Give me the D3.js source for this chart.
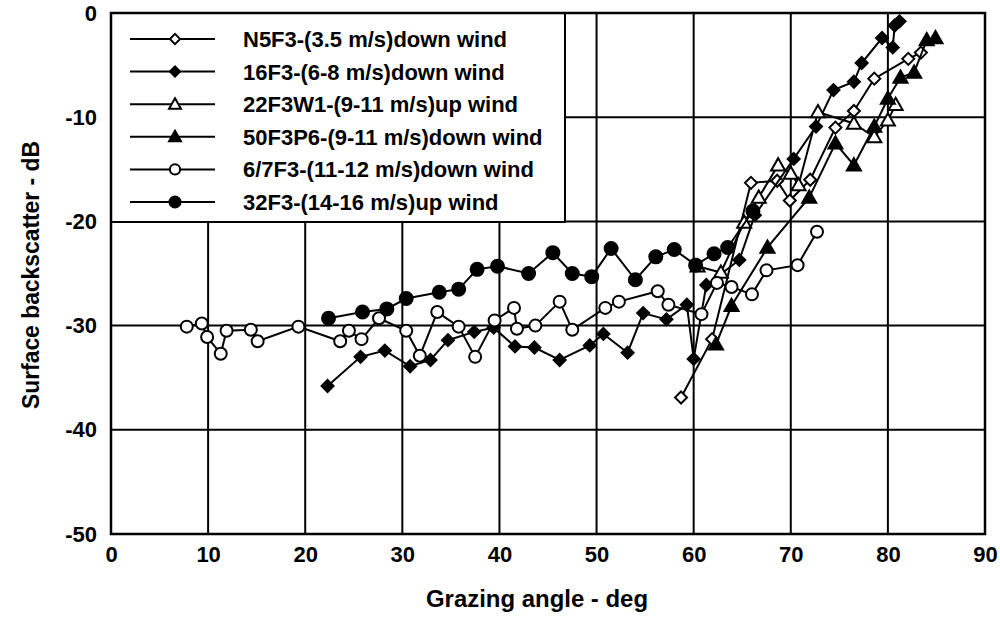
<!DOCTYPE html>
<html><head><meta charset="utf-8">
<script src="https://cdn.jsdelivr.net/npm/d3@7"></script>
<style>body{margin:0;background:#fff}svg{display:block}</style>
</head><body>
<svg id="c" width="1000" height="620"></svg>
<script>
const xTicks=[0,10,20,30,40,50,60,70,80,90];
const yTicks=[0,-10,-20,-30,-40,-50];
const seriesNames=["N5F3-(3.5 m/s)down wind","16F3-(6-8 m/s)down wind","22F3W1-(9-11 m/s)up wind","50F3P6-(9-11 m/s)down wind","6/7F3-(11-12 m/s)down wind","32F3-(14-16 m/s)up wind"];
const seriesMarkers=["diamondOpen","diamondFilled","triangleOpen","triangleFilled","circleOpen","circleFilled"];

const n5f3X=[58.7,61.9,65.9,68.6,69.9,72.0,74.6,76.5,78.6,82.1,83.4];
const n5f3Y=[-36.9,-31.3,-16.3,-16.1,-18.0,-16.0,-11.0,-9.4,-6.3,-4.4,-3.8];

const f16X=[22.3,25.7,28.2,30.8,32.9,34.7,37.4,39.4,41.6,43.6,46.2,49.3,50.7,53.2,54.8,57.2,59.3,60.0,61.3,64.7,66.3,70.3,72.6,74.4,76.5,77.3,79.4,80.5,80.7,81.2];
const f16Y=[-35.8,-33.0,-32.4,-33.9,-33.3,-31.4,-30.6,-30.2,-32.0,-32.1,-33.3,-31.9,-30.8,-32.6,-28.8,-29.4,-28.0,-33.2,-26.1,-23.7,-19.4,-14.0,-10.9,-7.4,-6.6,-4.8,-2.4,-3.3,-1.2,-0.8];

const w22X=[60.4,62.8,65.2,66.7,68.7,70.0,70.8,72.8,76.5,78.6,80.0,80.8];
const w22Y=[-24.3,-24.9,-20.1,-17.7,-14.6,-15.4,-16.5,-9.5,-10.6,-11.9,-10.3,-8.8];

const p50X=[62.3,63.9,67.6,71.9,74.6,76.5,78.6,80.0,81.3,82.7,84.0,84.9];
const p50Y=[-31.8,-28.1,-22.5,-17.7,-12.5,-14.6,-10.9,-8.2,-6.2,-5.7,-2.6,-2.4];

const f67X=[7.8,9.35,9.9,11.3,11.9,14.4,15.1,19.3,23.6,24.5,25.8,27.6,30.4,31.8,33.6,35.8,37.5,39.5,41.5,41.8,43.7,46.2,47.5,50.9,52.3,56.3,57.4,60.8,62.4,63.9,66.0,67.5,70.7,72.7];
const f67Y=[-30.1,-29.8,-31.1,-32.7,-30.5,-30.4,-31.5,-30.1,-31.5,-30.5,-31.3,-29.3,-30.5,-32.9,-28.7,-30.1,-33.0,-29.5,-28.3,-30.3,-30.0,-27.7,-30.4,-28.3,-27.7,-26.7,-28.0,-28.9,-25.9,-26.3,-27.0,-24.7,-24.2,-21.0];

const f32X=[22.4,25.9,28.4,30.4,33.8,35.8,37.7,39.8,43.0,45.5,47.5,49.5,51.5,54.0,56.1,58.0,60.2,62.1,63.5,66.1];
const f32Y=[-29.3,-28.7,-28.4,-27.4,-26.8,-26.5,-24.6,-24.3,-25.0,-23.0,-25.0,-25.3,-22.6,-25.6,-23.4,-22.7,-24.2,-23.1,-22.5,-19.0];

const seriesX=[n5f3X,f16X,w22X,p50X,f67X,f32X];
const seriesY=[n5f3Y,f16Y,w22Y,p50Y,f67Y,f32Y];

const svg=d3.select("#c");
const L=111,R=985,T=13,B=534;
const x=d3.scaleLinear().domain([0,90]).range([L,R]);
const y=d3.scaleLinear().domain([-50,0]).range([B,T]);
const font="'Liberation Sans', Arial, Helvetica, sans-serif";
const fmt=d=>String(d);

// grid
const g=svg.append("g");
g.selectAll("line.vx").data(xTicks).join("line").attr("x1",d=>x(d)).attr("x2",d=>x(d)).attr("y1",T).attr("y2",B).attr("stroke","#000").attr("stroke-width",2);
g.selectAll("line.hy").data(yTicks).join("line").attr("x1",L).attr("x2",R).attr("y1",d=>y(d)).attr("y2",d=>y(d)).attr("stroke","#000").attr("stroke-width",2);

// axes labels via d3 axes
const xAxis=svg.append("g").attr("transform",`translate(0,${B})`).call(d3.axisBottom(x).tickValues(xTicks).tickSize(0).tickPadding(9).tickFormat(fmt));
xAxis.select(".domain").remove();
xAxis.selectAll("text").attr("font-family",font).attr("font-size",22).attr("font-weight","bold").attr("fill","#000").attr("dy","0.85em");
const yAxis=svg.append("g").attr("transform",`translate(${L},0)`).call(d3.axisLeft(y).tickValues(yTicks).tickSize(0).tickPadding(14).tickFormat(fmt));
yAxis.select(".domain").remove();
yAxis.selectAll("text").attr("font-family",font).attr("font-size",22).attr("font-weight","bold").attr("fill","#000");

svg.append("text").attr("x",537).attr("y",607).attr("text-anchor","middle").attr("font-family",font).attr("font-size",23).attr("font-weight","bold")
  .attr("textLength",222).attr("lengthAdjust","spacingAndGlyphs").text("Grazing angle - deg");
svg.append("text").attr("transform",`translate(39,275) rotate(-90)`).attr("text-anchor","middle").attr("font-family",font).attr("font-size",23).attr("font-weight","bold")
  .attr("textLength",268).attr("lengthAdjust","spacingAndGlyphs").text("Surface backscatter - dB");

// markers
function drawMarker(sel,type,scale){
  const k=scale||1;
  if(type.startsWith("circle")){
    sel.append("circle").attr("r",(type==="circleFilled"?6.5:6)*k);
  } else if(type.startsWith("diamond")){
    const r=6*k;
    sel.append("path").attr("d",`M0,${-r}L${r},0L0,${r}L${-r},0Z`);
  } else {
    const s=7*k;
    sel.append("path").attr("d",`M0,${-s}L${s},${s*0.75}L${-s},${s*0.75}Z`);
  }
  const filled=type.endsWith("Filled");
  sel.selectAll("circle,path").attr("fill",filled?"#000":"#fff").attr("stroke","#000").attr("stroke-width",2);
}

const line=d3.line().x(d=>x(d[0])).y(d=>y(d[1]));
seriesX.forEach((xs,i)=>{
  const pts=xs.map((v,j)=>[v,seriesY[i][j]]);
  const sg=svg.append("g");
  sg.append("path").attr("d",line(pts)).attr("fill","none").attr("stroke","#000").attr("stroke-width",2);
  pts.forEach(p=>{
    const m=sg.append("g").attr("transform",`translate(${x(p[0])},${y(p[1])})`);
    drawMarker(m,seriesMarkers[i]);
  });
});

// legend
const lg=svg.append("g");
lg.append("rect").attr("x",L).attr("y",T).attr("width",454).attr("height",209).attr("fill","#fff").attr("stroke","#000").attr("stroke-width",2);
seriesNames.forEach((nm,i)=>{
  const yy=T+26+i*32.6;
  lg.append("line").attr("x1",130).attr("x2",215).attr("y1",yy).attr("y2",yy).attr("stroke","#000").attr("stroke-width",2);
  const m=lg.append("g").attr("transform",`translate(175,${yy})`);
  drawMarker(m,seriesMarkers[i],0.85);
  lg.append("text").attr("x",243).attr("y",yy+8).attr("font-family",font).attr("font-size",22).attr("font-weight","bold").attr("fill","#000").text(nm);
});

// frame
svg.append("rect").attr("x",L).attr("y",T).attr("width",R-L).attr("height",B-T).attr("fill","none").attr("stroke","#000").attr("stroke-width",2.5);
</script>
</body></html>
